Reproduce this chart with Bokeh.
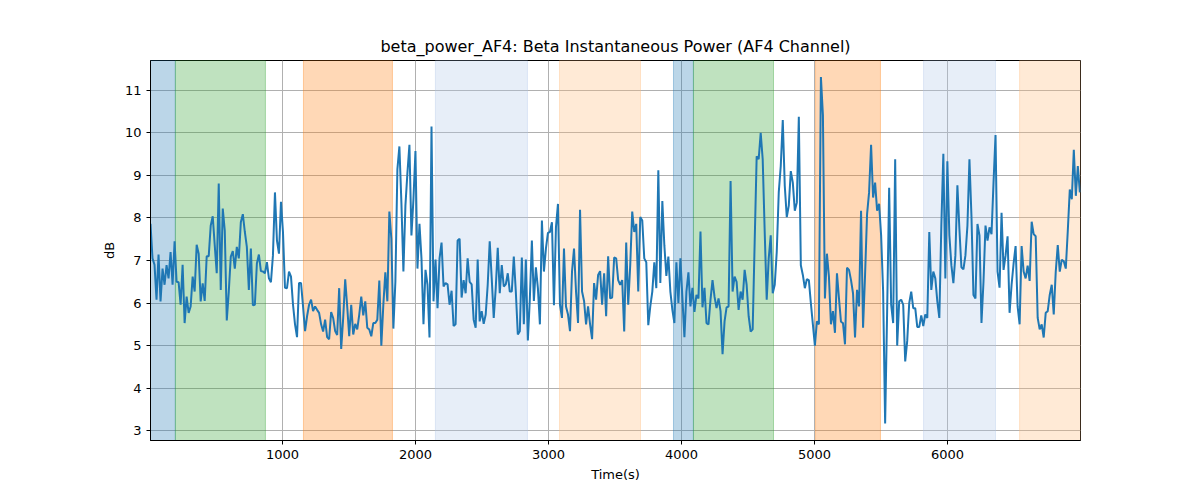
import numpy as np
from bokeh.plotting import figure
from bokeh.models import BoxAnnotation, Range1d, FixedTicker
from bokeh.embed import file_html
from bokeh.resources import INLINE

seg1 = [7.86,7.05,6.9,6.08,7.14,6.04,6.81,6.43,6.89,6.58,7.2,6.43,7.45,6.5,6.49,5.96,6.9,5.53,6.15,5.77,5.92,6.62,6.27,7.37,7.16,6.04,6.46,6.05,7.1,7.1,7.82,8.04,7.36,6.7,8.81,6.31,8.22,7.7,5.59,6.27,7.09,7.22,6.81,7.32,7.05,7.9,8.09,7.67,7.32,6.31,7.28,5.95,5.96,6.93,7.14,6.75,6.74,6.7,6.96,6.58,6.49,7.12,8.6,7.47,7.16,8.38,7.67,6.36,6.35,6.74,6.62,5.96,5.5,5.2,6.47]
seg2 = [6.47,5.92,5.34,5.69,5.96,6.08,5.81,5.92,5.84,5.77,5.5,5.33,5.61,5.2,5.15,5.79,5.65,5.34,5.25,6.35,4.92,5.65,6.56,5.92,5.22,5.96,5.26,5.51,5.38,5.73,6.15,5.71,6.04,5.42,5.38,5.22,5.53,5.53,5.61,6.53,5.0,5.96,6.72,6.04,8.15,7.51,5.4,6.5,9.14,9.68,8.36,6.74,8.29,9.06,9.72,7.59,8.44,9.57,6.81,7.86,7.05,5.5,6.78,6.43,5.19,10.15,6.04,7.02,5.88,7.05,7.42,6.39,6.47,6.44,5.96,6.29,5.46,5.5,7.47]
seg3 = [7.51,6.13,6.54,6.23,7.05,6.5,6.44,5.61,5.42,7.02,5.57,5.81,5.51,5.73,6.43,7.45,6.58,5.65,6.35,7.3,6.23,6.89,6.39,6.44,6.7,6.27,6.27,7.09,6.27,5.26,5.34,7.07,5.5,7.02,5.12,6.11,7.47,6.05,6.84,6.35,5.5,7.94,6.74,7.28,7.65,7.67,7.9,5.95,7.78,8.33,5.96,5.65,7.28,5.92,5.73,5.34,6.74,7.28,6.27,5.53,8.19,6.27,6.05,5.5,5.92,5.5,5.15,6.47,6.08,6.66,6.75,5.96,6.7,5.69,7.1,6.11,6.13,7.07]
seg4 = [7.05,6.54,6.43,6.54,5.33,7.42,5.96,6.89,8.15,7.67,7.86,6.27,8.02,7.94,7.05,6.96,5.48,5.92,6.27,6.96,6.35,9.12,6.47,8.4,7.36,6.64,7.09,6.27,5.84,5.53,6.96,6.0,7.05,6.11,5.2,6.27,6.72,5.92,6.36,5.79,6.19,6.11,7.68,5.9,6.36,5.53,5.5,6.08,6.54,6.15,5.88,6.11,5.81,4.8,5.57,5.9,5.92,8.87,6.27,6.62,6.5,5.84,6.27,6.08,6.78,6.43,5.69,5.33,5.38,7.43,9.45,9.38,10.0,9.38,7.67,6.08,7.05,7.59]
seg5 = [6.23,6.43,7.2,8.6,9.22,10.3,8.75,8.02,8.29,9.1,8.83,8.17,8.36,10.38,6.89,6.66,6.35,6.56,6.54,6.0,5.5,5.0,5.57,5.5,11.31,10.42,6.11,7.16,6.62,5.5,5.81,5.3,6.7,6.11,5.56,5.53,5.03,6.83,6.78,6.54,6.23,5.19,6.31,5.92,8.17,5.42,6.66,8.09,8.6,9.72,8.48,8.83,8.17,8.33,7.59,6.27,3.17,5.81,8.71,5.96,5.53,9.38,5.0,6.04,6.08,5.96,4.63,5.11,6.0,6.27,5.88,5.88,5.44,5.44,5.71,5.46,5.73]
seg6 = [5.65,7.67,6.31,6.74,6.58,6.04,5.65,7.82,9.51,6.58,9.33,7.59,6.89,6.47,7.12,8.77,7.74,6.84,6.79,7.12,7.82,9.38,8.05,6.19,6.11,7.86,7.59,5.53,6.5,7.82,7.47,7.78,7.62,8.83,9.95,6.74,6.36,8.12,6.78,7.12,7.57,5.77,6.43,6.93,7.34,5.92,5.5,7.34,6.74,6.58,6.88,6.52,7.91,7.62,7.57,5.65,5.38,5.5,5.19,5.77,5.81,6.19,6.43,5.73,6.74,7.36,6.74,7.02,6.98,6.81,7.7,8.67,8.44,9.6,8.52,9.22,8.6]
values = seg1 + seg2 + seg3 + seg4 + seg5 + seg6
t_start, t_end = 8, 6995
times = np.linspace(t_start, t_end, len(values))

span_start = [8, 195, 1158, 2150, 3083, 3940, 4090, 5008, 5820, 6542]
span_end = [195, 872, 1827, 2842, 3692, 4090, 4692, 5496, 6361, 7000]
span_color = ["#1f77b4", "#2ca02c", "#ff7f0e", "#aec7e8", "#ffbb78", "#1f77b4", "#2ca02c", "#ff7f0e", "#aec7e8", "#ffbb78"]
span_alpha = [0.3, 0.3, 0.3, 0.3, 0.3, 0.3, 0.3, 0.3, 0.3, 0.3]
x_ticks = [1000, 2000, 3000, 4000, 5000, 6000]
y_ticks = [3, 4, 5, 6, 7, 8, 9, 10, 11]

p = figure(width=1184, height=484, output_backend="svg", toolbar_location=None,
           title="beta_power_AF4: Beta Instantaneous Power (AF4 Channel)",
           x_range=Range1d(8, 7000), y_range=Range1d(2.77, 11.7),
           min_border_left=150, min_border_right=104, min_border_top=60, min_border_bottom=39)
p.title.align = "center"
p.title.text_font = "DejaVu Sans"
p.title.text_font_size = "16px"
p.title.text_font_style = "normal"
p.title.text_color = "black"

for s, e, c, a in zip(span_start, span_end, span_color, span_alpha):
    p.add_layout(BoxAnnotation(left=s, right=e, fill_color=c, fill_alpha=a,
                               line_color=c, line_alpha=0.35, level="underlay"))

p.line(times, values, line_color="#1f77b4", line_width=2)

for ax in (p.xaxis, p.yaxis):
    ax.major_label_text_font = "DejaVu Sans"
    ax.major_label_text_font_size = "13px"
    ax.major_label_text_color = "black"
    ax.axis_label_text_font = "DejaVu Sans"
    ax.axis_label_text_font_size = "13px"
    ax.axis_label_text_font_style = "normal"
    ax.axis_label_text_color = "black"
    ax.minor_tick_line_color = None
    ax.major_tick_line_color = "black"
    ax.axis_line_color = "black"
    ax.major_tick_in = 0
    ax.major_tick_out = 4
p.xaxis.ticker = FixedTicker(ticks=x_ticks)
p.yaxis.ticker = FixedTicker(ticks=y_ticks)
p.xaxis.axis_label = "Time(s)"
p.yaxis.axis_label = "dB"
p.grid.grid_line_color = "#b0b0b0"
p.grid.grid_line_alpha = 1
p.grid.level = "underlay"
p.outline_line_color = "black"
p.outline_line_alpha = 1

open("out.html", "w").write(file_html(p, INLINE))
